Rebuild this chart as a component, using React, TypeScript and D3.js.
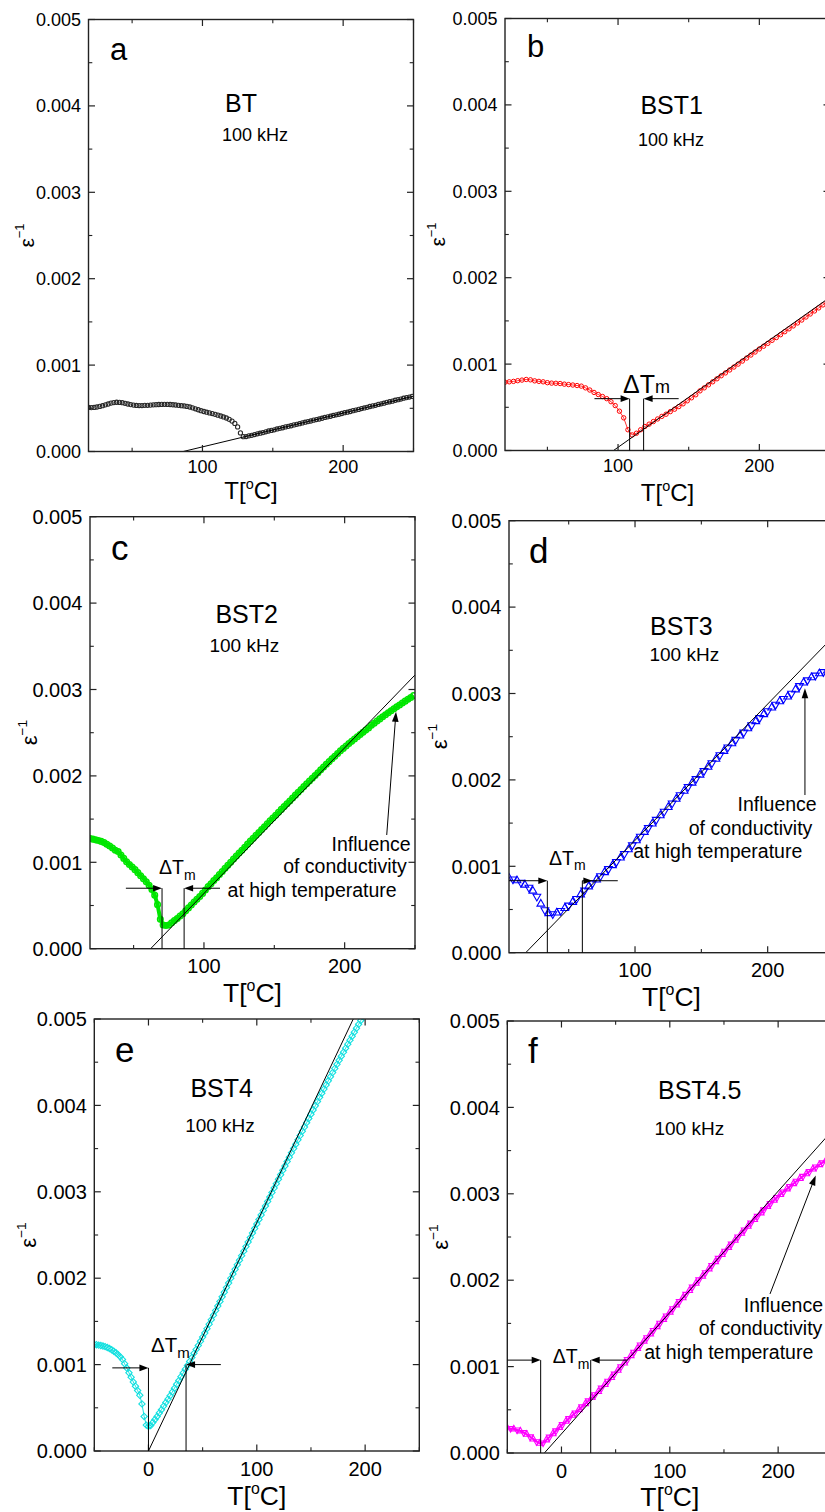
import React from "react";
import * as d3 from "d3";

const FONT = "Arial, 'Liberation Sans', Helvetica, sans-serif";

// ───────── data: ε⁻¹ in units of 10⁻³, measured every STEP °C from T0 ─────────
const BT_T0 = 19;
const BT_STEP = 2;
const BT_INV = [
  0.510, 0.508, 0.510, 0.515, 0.522, 0.530, 0.540, 0.550, 0.560, 0.566,
  0.570, 0.568, 0.565, 0.558, 0.550, 0.543, 0.537, 0.533, 0.532, 0.532,
  0.534, 0.535, 0.537, 0.540, 0.542, 0.544, 0.545, 0.546, 0.545, 0.544,
  0.541, 0.538, 0.534, 0.530, 0.527, 0.522, 0.515, 0.505, 0.494, 0.483,
  0.472, 0.463, 0.455, 0.447, 0.439, 0.430, 0.421, 0.411, 0.400, 0.388,
  0.372, 0.352, 0.325, 0.285, 0.215, 0.172,
  0.173, 0.181, 0.187, 0.196, 0.205, 0.212, 0.219, 0.228, 0.237, 0.244,
  0.251, 0.261, 0.268, 0.275, 0.285, 0.291, 0.298, 0.308, 0.315, 0.322,
  0.331, 0.339, 0.346, 0.353, 0.363, 0.370, 0.376, 0.385, 0.394, 0.401,
  0.408, 0.417, 0.425, 0.431, 0.440, 0.449, 0.455, 0.463, 0.473, 0.480,
  0.487, 0.497, 0.504, 0.511, 0.521, 0.528, 0.535, 0.545, 0.552, 0.559,
  0.569, 0.576, 0.583, 0.593, 0.600, 0.607, 0.617, 0.624, 0.630, 0.638,
];
const BT_FIT = [[86.3, 0], [250, 0.640]];

const BST1_T0 = 20;
const BST1_STEP = 3;
const BST1_INV = [
  0.790, 0.795, 0.800, 0.808, 0.815, 0.822, 0.818, 0.806, 0.800, 0.795,
  0.785, 0.780, 0.778, 0.775, 0.768, 0.763, 0.758, 0.752, 0.745, 0.725,
  0.700, 0.672, 0.648, 0.625, 0.600, 0.565, 0.520, 0.455, 0.378, 0.240,
  0.180, 0.200, 0.240, 0.278, 0.305, 0.335, 0.365, 0.395, 0.420, 0.450,
  0.478, 0.508, 0.540, 0.575, 0.610, 0.645, 0.690, 0.725, 0.760, 0.795,
  0.830, 0.865, 0.898, 0.932, 0.966, 1.000, 1.035, 1.070, 1.105, 1.140,
  1.175, 1.207, 1.240, 1.275, 1.307, 1.340, 1.375, 1.408, 1.442, 1.476,
  1.510, 1.545, 1.580, 1.615, 1.650, 1.685, 1.720,
];
const BST1_FIT = [[96.8, 0], [250, 1.774]];

const BST2_T0 = 19;
const BST2_STEP = 2;
const BST2_INV = [
  1.275, 1.268, 1.260, 1.252, 1.242, 1.228, 1.208, 1.188, 1.165, 1.140,
  1.125, 1.085, 1.045, 1.005, 0.975, 0.945, 0.915, 0.880, 0.845, 0.810,
  0.775, 0.735, 0.685, 0.620, 0.510, 0.340, 0.275, 0.268, 0.275, 0.300,
  0.325, 0.350, 0.378, 0.405, 0.438, 0.472, 0.505, 0.540, 0.572, 0.605,
  0.640, 0.680, 0.718, 0.752, 0.788, 0.822, 0.858, 0.893, 0.930, 0.965,
  1.000, 1.037, 1.072, 1.108, 1.140, 1.175, 1.210, 1.245, 1.278, 1.312,
  1.345, 1.380, 1.412, 1.445, 1.480, 1.512, 1.545, 1.578, 1.612, 1.645,
  1.678, 1.710, 1.744, 1.777, 1.810, 1.843, 1.876, 1.908, 1.940, 1.972,
  2.005, 2.037, 2.070, 2.102, 2.134, 2.166, 2.198, 2.228, 2.260, 2.290,
  2.318, 2.346, 2.374, 2.400, 2.427, 2.453, 2.478, 2.504, 2.530, 2.555,
  2.585, 2.610, 2.635, 2.660, 2.684, 2.708, 2.731, 2.754, 2.777, 2.799,
  2.821, 2.843, 2.865, 2.887, 2.908, 2.930,
];
const BST2_FIT = [[62.1, 0], [250, 3.168]];

const BST3_T0 = 5;
const BST3_STEP = 3;
const BST3_INV = [
  0.865, 0.850, 0.835, 0.812, 0.785, 0.755, 0.715, 0.650, 0.565, 0.495,
  0.455, 0.448, 0.462, 0.485, 0.515, 0.548, 0.585, 0.625, 0.672, 0.722,
  0.765, 0.805, 0.845, 0.888, 0.930, 0.970, 1.010, 1.052, 1.098, 1.145,
  1.195, 1.245, 1.298, 1.345, 1.395, 1.445, 1.492, 1.540, 1.588, 1.635,
  1.683, 1.730, 1.778, 1.825, 1.872, 1.920, 1.965, 2.012, 2.058, 2.105,
  2.150, 2.196, 2.242, 2.288, 2.333, 2.378, 2.422, 2.466, 2.510, 2.552,
  2.595, 2.636, 2.677, 2.718, 2.758, 2.797, 2.835, 2.872, 2.907, 2.940,
  2.962, 3.000, 3.045, 3.088, 3.125, 3.155, 3.185, 3.210, 3.232, 3.250,
  3.265, 3.278,
];
const BST3_FIT = [[17.6, 0], [250, 3.667]];

const BST4_T0 = -50;
const BST4_STEP = 2;
const BST4_INV = [
  1.232, 1.230, 1.226, 1.221, 1.215, 1.208, 1.198, 1.186, 1.172, 1.155,
  1.137, 1.115, 1.090, 1.060, 1.010, 0.960, 0.905, 0.855, 0.800, 0.750,
  0.700, 0.645, 0.545, 0.400, 0.300, 0.285, 0.295, 0.330, 0.365, 0.400,
  0.440, 0.478, 0.520, 0.560, 0.600, 0.640, 0.683, 0.727, 0.772, 0.815,
  0.860, 0.903, 0.947, 0.990, 1.036, 1.082, 1.130, 1.176, 1.222, 1.270,
  1.318, 1.365, 1.416, 1.468, 1.520, 1.572, 1.625, 1.678, 1.731, 1.784,
  1.838, 1.891, 1.944, 1.998, 2.050, 2.103, 2.155, 2.208, 2.261, 2.313,
  2.366, 2.418, 2.470, 2.522, 2.575, 2.628, 2.680, 2.732, 2.785, 2.836,
  2.888, 2.940, 2.991, 3.043, 3.094, 3.146, 3.197, 3.248, 3.299, 3.350,
  3.401, 3.451, 3.501, 3.551, 3.601, 3.651, 3.701, 3.750, 3.800, 3.849,
  3.898, 3.947, 3.996, 4.044, 4.093, 4.141, 4.189, 4.237, 4.285, 4.333,
  4.380, 4.428, 4.475, 4.522, 4.569, 4.616, 4.662, 4.709, 4.755, 4.801,
  4.847, 4.893, 4.938, 4.983, 5.028,
];
const BST4_FIT = [[0, 0], [200, 5.29]];

const BST45_T0 = -50;
const BST45_STEP = 3;
const BST45_INV = [
  0.290, 0.285, 0.278, 0.268, 0.255, 0.238, 0.215, 0.188, 0.160, 0.132,
  0.112, 0.118, 0.150, 0.185, 0.222, 0.258, 0.295, 0.330, 0.365, 0.400,
  0.435, 0.465, 0.500, 0.535, 0.570, 0.605, 0.640, 0.675, 0.712, 0.752,
  0.792, 0.832, 0.873, 0.915, 0.957, 0.998, 1.040, 1.083, 1.125, 1.167,
  1.209, 1.251, 1.293, 1.335, 1.377, 1.419, 1.461, 1.503, 1.545, 1.587,
  1.629, 1.671, 1.713, 1.754, 1.796, 1.838, 1.880, 1.922, 1.963, 2.005,
  2.046, 2.088, 2.130, 2.171, 2.213, 2.254, 2.296, 2.337, 2.378, 2.419,
  2.460, 2.501, 2.541, 2.582, 2.622, 2.662, 2.701, 2.740, 2.778, 2.816,
  2.853, 2.889, 2.924, 2.958, 2.991, 3.023, 3.055, 3.086, 3.116, 3.146,
  3.175, 3.203, 3.231, 3.258, 3.285, 3.311, 3.336, 3.360, 3.384, 3.407,
  3.430,
];
const BST45_FIT = [[-15.8, 0], [250, 3.732]];

// ΔTm markers: [T left, T right, level left (×10⁻³), level right, arrow start T, arrow end T]
const BST1_DTM = [108.2, 118.1, 0.60, 0.60, 83.3, 142.9];
const BST2_DTM = [70.2, 85.9, 0.70, 0.70, 44.5, 111.4];
const BST3_DTM = [33.9, 60.3, 0.833, 0.833, 5, 87];
const BST4_DTM = [0, 34.7, 0.962, 1.0, -33.4, 66.8];
const BST45_DTM = [-19.2, 27, 1.075, 1.075, -50, 60.2];

// "Influence of conductivity" arrows: [T from, v from, T to, v to]
const BST2_INFL = [229.9, 1.316, 236.5, 2.743];
const BST3_INFL = [228.1, 1.825, 228.1, 3.06];
const BST45_INFL = [192.5, 1.841, 234.7, 3.213];

const Y_MAJOR = [0, 0.001, 0.002, 0.003, 0.004, 0.005];
const Y_MINOR = [0.0005, 0.0015, 0.0025, 0.0035, 0.0045];

const W = 325;
const H = 432;

type Marker = "circle" | "tri" | "diamond";

interface PanelCfg {
  letter: string;
  name: string;
  t0: number;
  step: number;
  values: number[];
  fit: number[][];
  color: string;
  marker: Marker;
  size: number;
  sw: number;
  connect: number;
  left: number;
  top: number;
  xDomain: [number, number];
  xMajor: number[];
  xMinor: number[];
  tickFs: number;
  titleFs: number;
  epsFs: number;
  letterFs: number;
  xTickDy: number;
  xTitleDy: number;
  yTitleX: number;
  letterPos: [number, number];
  namePos: [number, number];
  freqPos: [number, number];
  freqFs: number;
  dtm?: number[];
  dtmText?: [number, number, number, number, number]; // x, baseline, fs, subFs, subDy
  rightHeadOut?: boolean;
  infl?: number[];
  inflText?: [string, number, number][];
}

const PANELS: PanelCfg[] = [
  {
    letter: "a", name: "BT", t0: BT_T0, step: BT_STEP, values: BT_INV, fit: BT_FIT,
    color: "#2a2a2a", marker: "circle", size: 2.1, sw: 1.1, connect: 0,
    left: 88.5, top: 19.5, xDomain: [19, 250], xMajor: [100, 200], xMinor: [50, 150, 250],
    tickFs: 18, titleFs: 24, epsFs: 21, letterFs: 31, xTickDy: 21.5, xTitleDy: 47.5, yTitleX: 33.5,
    letterPos: [110, 60], namePos: [241, 112], freqPos: [255, 141], freqFs: 18,
  },
  {
    letter: "b", name: "BST1", t0: BST1_T0, step: BST1_STEP, values: BST1_INV, fit: BST1_FIT,
    color: "#ff0000", marker: "circle", size: 2.2, sw: 1, connect: 0.8,
    left: 505, top: 18.5, xDomain: [20, 250], xMajor: [100, 200], xMinor: [50, 150, 250],
    tickFs: 18, titleFs: 24, epsFs: 21, letterFs: 31, xTickDy: 21, xTitleDy: 50, yTitleX: 445,
    letterPos: [527, 57], namePos: [671.7, 114], freqPos: [671, 146], freqFs: 18,
    dtm: BST1_DTM, dtmText: [623, 393.3, 25, 18, 0],
  },
  {
    letter: "c", name: "BST2", t0: BST2_T0, step: BST2_STEP, values: BST2_INV, fit: BST2_FIT,
    color: "#00e600", marker: "circle", size: 2.8, sw: 1.5, connect: 4,
    left: 90, top: 516.7, xDomain: [19, 250], xMajor: [100, 200], xMinor: [50, 150, 250],
    tickFs: 20, titleFs: 26.5, epsFs: 22, letterFs: 35, xTickDy: 24.5, xTitleDy: 53, yTitleX: 36.7,
    letterPos: [111, 560], namePos: [246.7, 623.3], freqPos: [244.3, 652.3], freqFs: 19,
    dtm: BST2_DTM, dtmText: [159, 874, 19.5, 14, 6],
    infl: BST2_INFL,
    inflText: [["Influence", 410.7, 850.7], ["of conductivity", 406.7, 873.3], ["at high temperature", 396.7, 897.3]],
  },
  {
    letter: "d", name: "BST3", t0: BST3_T0, step: BST3_STEP, values: BST3_INV, fit: BST3_FIT,
    color: "#0000ff", marker: "tri", size: 26, sw: 1.1, connect: 0,
    left: 509, top: 520.7, xDomain: [5, 250], xMajor: [100, 200], xMinor: [50, 150],
    tickFs: 20, titleFs: 26.5, epsFs: 22, letterFs: 35, xTickDy: 24, xTitleDy: 53, yTitleX: 446.7,
    letterPos: [529, 563.3], namePos: [681.3, 635], freqPos: [684.3, 660.7], freqFs: 19,
    dtm: BST3_DTM, dtmText: [549, 865, 19.5, 14, 5], rightHeadOut: true,
    infl: BST3_INFL,
    inflText: [["Influence", 816.7, 810.7], ["of conductivity", 812.3, 835], ["at high temperature", 802.3, 858.3]],
  },
  {
    letter: "e", name: "BST4", t0: BST4_T0, step: BST4_STEP, values: BST4_INV, fit: BST4_FIT,
    color: "#14e0e0", marker: "diamond", size: 20, sw: 1.1, connect: 1,
    left: 94.3, top: 1019, xDomain: [-50, 250], xMajor: [0, 100, 200], xMinor: [-50, 50, 150, 250],
    tickFs: 20, titleFs: 26.5, epsFs: 22, letterFs: 35, xTickDy: 25, xTitleDy: 54, yTitleX: 36,
    letterPos: [115, 1061.7], namePos: [221.7, 1096.7], freqPos: [220, 1131.7], freqFs: 19,
    dtm: BST4_DTM, dtmText: [151, 1351.7, 20.5, 15, 6.5],
  },
  {
    letter: "f", name: "BST4.5", t0: BST45_T0, step: BST45_STEP, values: BST45_INV, fit: BST45_FIT,
    color: "#ff00ff", marker: "tri", size: 18, sw: 1.1, connect: 2,
    left: 507.3, top: 1021, xDomain: [-50, 250], xMajor: [0, 100, 200], xMinor: [-50, 50, 150, 250],
    tickFs: 20, titleFs: 26.5, epsFs: 22, letterFs: 35, xTickDy: 25, xTitleDy: 52.5, yTitleX: 448.3,
    letterPos: [528, 1062.7], namePos: [699.7, 1099], freqPos: [689.3, 1135], freqFs: 19,
    dtm: BST45_DTM, dtmText: [552.7, 1362.7, 19.5, 14, 6.5],
    infl: BST45_INFL,
    inflText: [["Influence", 823, 1311.7], ["of conductivity", 822.3, 1335], ["at high temperature", 813.3, 1359.3]],
  },
];

function head(tx: number, ty: number, ux: number, uy: number, len = 9, half = 3.3) {
  const bx = tx - ux * len;
  const by = ty - uy * len;
  const nx = -uy;
  const ny = ux;
  return `${tx},${ty} ${bx + nx * half},${by + ny * half} ${bx - nx * half},${by - ny * half}`;
}

function Panel({ p }: { p: PanelCfg }) {
  const x = d3.scaleLinear().domain(p.xDomain).range([p.left, p.left + W]);
  const y = d3.scaleLinear().domain([0, 0.005]).range([p.top + H, p.top]);
  const x0 = p.left;
  const x1 = p.left + W;
  const yb = p.top + H;
  const yt = p.top;
  const pts: [number, number][] = p.values.map((v, i) => [p.t0 + i * p.step, v * 1e-3]);
  const lineGen = d3.line<[number, number]>().x((d) => x(d[0])).y((d) => y(d[1]));
  const fitPts: [number, number][] = p.fit.map((d) => [d[0], d[1] * 1e-3]);
  const clipId = `clip-${p.letter}`;
  const fmt = d3.format(".3f");
  const triPath = d3.symbol().type(d3.symbolTriangle).size(p.size)() || "";
  const sqPath = d3.symbol().type(d3.symbolSquare).size(p.size)() || "";
  const stroke = "#222";
  const MAJ = 6.5;
  const MIN = 3.8;

  const markers = pts.map((d, i) => {
    const cx = x(d[0]);
    const cy = y(d[1]);
    if (p.marker === "circle") {
      return <circle key={i} cx={cx} cy={cy} r={p.size} fill="none" stroke={p.color} strokeWidth={p.sw} />;
    }
    if (p.marker === "diamond") {
      return (
        <path key={i} d={sqPath} transform={`translate(${cx},${cy}) rotate(45)`} fill="none" stroke={p.color} strokeWidth={p.sw} />
      );
    }
    return (
      <path key={i} d={triPath} transform={`translate(${cx},${cy}) rotate(${i % 2 ? 180 : 0})`} fill="none" stroke={p.color} strokeWidth={p.sw} />
    );
  });

  let dtmEls: React.ReactNode = null;
  if (p.dtm && p.dtmText) {
    const [tL, tR, lvL, lvR, from, to] = p.dtm;
    const xl = x(tL);
    const xr = x(tR);
    const yl = y(lvL * 1e-3);
    const yr = y(lvR * 1e-3);
    const xf = x(from);
    const xt = x(to);
    const [tx, ty, fs, sfs, sdy] = p.dtmText;
    dtmEls = (
      <g>
        <line x1={xf} y1={yl} x2={xl - 8} y2={yl} stroke="#000" strokeWidth={1} />
        <polygon points={head(xl, yl, 1, 0)} fill="#000" />
        <line x1={xl} y1={yl} x2={xl} y2={yb} stroke="#000" strokeWidth={1} />
        <line x1={xr} y1={yr} x2={xr} y2={yb} stroke="#000" strokeWidth={1} />
        {p.rightHeadOut ? (
          <>
            <line x1={xr} y1={yr} x2={xt} y2={yr} stroke="#000" strokeWidth={1} />
            <polygon points={head(xr + 10, yr, 1, 0)} fill="#000" />
          </>
        ) : (
          <>
            <line x1={xt} y1={yr} x2={xr + 8} y2={yr} stroke="#000" strokeWidth={1} />
            <polygon points={head(xr, yr, -1, 0)} fill="#000" />
          </>
        )}
        <text x={tx} y={ty} fontSize={fs} fill="#000">
          ΔT
          <tspan fontSize={sfs} dy={sdy}>m</tspan>
        </text>
      </g>
    );
  }

  let inflEls: React.ReactNode = null;
  if (p.infl && p.inflText) {
    const [ta, va, tb, vb] = p.infl;
    const ax = x(ta);
    const ay = y(va * 1e-3);
    const bx = x(tb);
    const by = y(vb * 1e-3);
    const len = Math.hypot(bx - ax, by - ay);
    const ux = (bx - ax) / len;
    const uy = (by - ay) / len;
    inflEls = (
      <g>
        <line x1={ax} y1={ay} x2={bx - ux * 9} y2={by - uy * 9} stroke="#000" strokeWidth={1} />
        <polygon points={head(bx, by, ux, uy, 10, 3.3)} fill="#000" />
        {p.inflText.map(([s, tx, ty]) => (
          <text key={s} x={tx} y={ty} fontSize={19.5} textAnchor="end" fill="#000">
            {s}
          </text>
        ))}
      </g>
    );
  }

  const cyMid = (yt + yb) / 2;
  const cxMid = (x0 + x1) / 2;

  return (
    <g>
      <defs>
        <clipPath id={clipId}>
          <rect x={x0} y={yt} width={W} height={H} />
        </clipPath>
      </defs>
      <g clipPath={`url(#${clipId})`}>
        {p.connect > 0 && (
          <path d={lineGen(pts) || ""} fill="none" stroke={p.color} strokeWidth={p.connect} strokeLinejoin="round" />
        )}
        {markers}
        <path d={lineGen(fitPts) || ""} fill="none" stroke="#000" strokeWidth={1} />
      </g>

      {/* frame */}
      <rect x={x0} y={yt} width={W} height={H} fill="none" stroke={stroke} strokeWidth={1.4} />
      {/* y ticks */}
      {Y_MAJOR.map((t) => (
        <g key={`ym${t}`}>
          <line x1={x0} x2={x0 + MAJ} y1={y(t)} y2={y(t)} stroke={stroke} strokeWidth={1.2} />
          <line x1={x1} x2={x1 - MAJ} y1={y(t)} y2={y(t)} stroke={stroke} strokeWidth={1.2} />
          <text x={x0 - 7.5} y={y(t)} dy="0.36em" textAnchor="end" fontSize={p.tickFs} fill="#000">
            {fmt(t)}
          </text>
        </g>
      ))}
      {Y_MINOR.map((t) => (
        <g key={`yn${t}`}>
          <line x1={x0} x2={x0 + MIN} y1={y(t)} y2={y(t)} stroke={stroke} strokeWidth={1.1} />
          <line x1={x1} x2={x1 - MIN} y1={y(t)} y2={y(t)} stroke={stroke} strokeWidth={1.1} />
        </g>
      ))}
      {/* x ticks */}
      {p.xMajor.map((t) => (
        <g key={`xm${t}`}>
          <line x1={x(t)} x2={x(t)} y1={yb} y2={yb - MAJ} stroke={stroke} strokeWidth={1.2} />
          <line x1={x(t)} x2={x(t)} y1={yt} y2={yt + MAJ} stroke={stroke} strokeWidth={1.2} />
          <text x={x(t)} y={yb + p.xTickDy} textAnchor="middle" fontSize={p.tickFs} fill="#000">
            {t}
          </text>
        </g>
      ))}
      {p.xMinor.map((t) => (
        <g key={`xn${t}`}>
          <line x1={x(t)} x2={x(t)} y1={yb} y2={yb - MIN} stroke={stroke} strokeWidth={1.1} />
          <line x1={x(t)} x2={x(t)} y1={yt} y2={yt + MIN} stroke={stroke} strokeWidth={1.1} />
        </g>
      ))}

      {/* axis titles */}
      <text x={cxMid} y={yb + p.xTitleDy} textAnchor="middle" fontSize={p.titleFs} fill="#000">
        T[
        <tspan fontSize={p.titleFs * 0.6} dy={-p.titleFs * 0.4}>o</tspan>
        <tspan dy={p.titleFs * 0.4}>C]</tspan>
      </text>
      <text transform={`translate(${p.yTitleX},${cyMid}) rotate(-90)`} textAnchor="middle" fontSize={p.epsFs} fill="#000">
        ε
        <tspan fontSize={p.epsFs * 0.62} dy={-p.epsFs * 0.45}>−1</tspan>
      </text>

      {/* labels */}
      <text x={p.letterPos[0]} y={p.letterPos[1]} fontSize={p.letterFs} fill="#000">
        {p.letter}
      </text>
      <text x={p.namePos[0]} y={p.namePos[1]} textAnchor="middle" fontSize={25} fill="#000">
        {p.name}
      </text>
      <text x={p.freqPos[0]} y={p.freqPos[1]} textAnchor="middle" fontSize={p.freqFs} fill="#000">
        100 kHz
      </text>

      {dtmEls}
      {inflEls}
    </g>
  );
}

export default function App() {
  return (
    <svg
      width={825}
      height={1512}
      style={{ position: "absolute", left: 0, top: 0, display: "block" }}
      fontFamily={FONT}
    >
      <rect x={0} y={0} width={825} height={1512} fill="#fff" />
      {PANELS.map((p) => (
        <Panel key={p.letter} p={p} />
      ))}
    </svg>
  );
}
